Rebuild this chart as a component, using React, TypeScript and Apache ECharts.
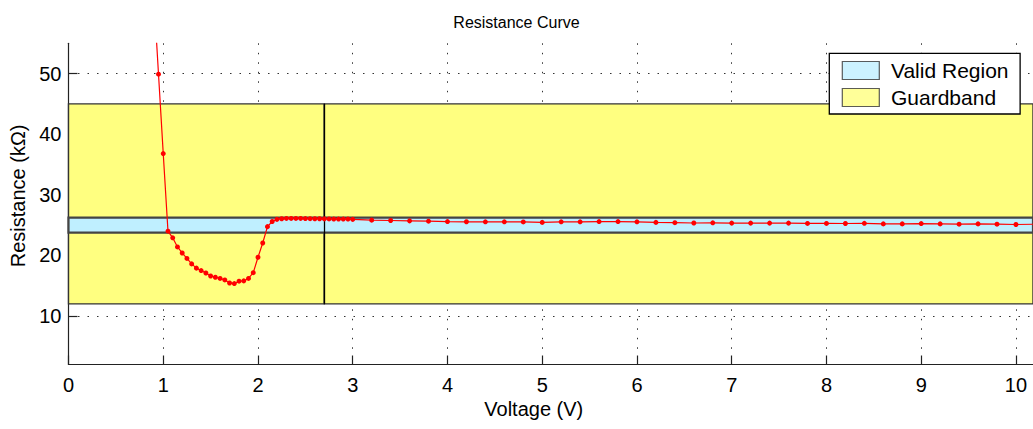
import React, { useEffect, useRef } from "react";
import * as echarts from "echarts";

const voltage = [
  0.9, 0.95, 1.0, 1.05, 1.1, 1.15, 1.2, 1.25, 1.3, 1.35, 1.4, 1.45, 1.5, 1.55,
  1.6, 1.65, 1.7, 1.75, 1.8, 1.85, 1.9, 1.95, 2.0, 2.05, 2.1, 2.15, 2.2, 2.25,
  2.3, 2.35, 2.4, 2.45, 2.5, 2.55, 2.6, 2.65, 2.7, 2.75, 2.8, 2.85, 2.9, 2.95,
  3.0, 3.2, 3.4, 3.6, 3.8, 4.0, 4.2, 4.4, 4.6, 4.8, 5.0, 5.2, 5.4, 5.6, 5.8,
  6.0, 6.2, 6.4, 6.6, 6.8, 7.0, 7.2, 7.4, 7.6, 7.8, 8.0, 8.2, 8.4, 8.6, 8.8,
  9.0, 9.2, 9.4, 9.6, 9.8, 10.0, 10.2,
];
const resistance = [
  63, 49.9, 36.8, 24.0, 22.9, 21.4, 20.4, 19.5, 18.6, 17.9, 17.5, 17.1, 16.6,
  16.4, 16.2, 15.95, 15.45, 15.35, 15.75, 15.8, 16.2, 17.15, 19.7, 22.05, 24.75,
  25.6, 25.95, 26.05, 26.1, 26.1, 26.1, 26.1, 26.08, 26.06, 26.05, 26.05, 26.03,
  26.02, 26.0, 26.0, 26.0, 26.0, 25.95, 25.82, 25.76, 25.7, 25.65, 25.58, 25.55,
  25.54, 25.54, 25.52, 25.45, 25.54, 25.54, 25.58, 25.58, 25.54, 25.45, 25.4,
  25.35, 25.38, 25.33, 25.33, 25.33, 25.33, 25.28, 25.28, 25.27, 25.3, 25.2,
  25.2, 25.25, 25.2, 25.15, 25.2, 25.15, 25.1, 25.15,
];
const xTicks = [0, 1, 2, 3, 4, 5, 6, 7, 8, 9, 10];
const yTicks = [10, 20, 30, 40, 50];
const validRegion = [23.75, 26.25];
const guardband = [12, 45];
const splitVoltage = 2.7;
const xRange = [0, 10.18];
const yRange = [2, 55];

const FONT = "'Liberation Sans', Arial, Helvetica, sans-serif";

export default function App() {
  const ref = useRef<HTMLDivElement>(null);
  useEffect(() => {
    if (!ref.current) return;
    const chart = echarts.init(ref.current, null, { renderer: "svg" });
    const points = voltage.map((v, i) => [v, resistance[i]]);
    const gridLine = { show: true, lineStyle: { color: "#333", type: [1.5, 8], width: 1 } };
    chart.setOption({
      animation: false,
      backgroundColor: "#fff",
      title: {
        text: "Resistance Curve",
        left: "center",
        top: 9,
        padding: [5, 0, 5, 10],
        textStyle: { fontFamily: FONT, fontSize: 16, fontWeight: "normal", color: "#000" },
      },
      legend: {
        orient: "vertical",
        left: 829.3,
        top: 53.3,
        padding: [6.7, 11.6, 6, 12.4],
        itemWidth: 37,
        itemHeight: 18,
        itemGap: 6,
        backgroundColor: "#fff",
        borderColor: "#000",
        borderWidth: 1.3,
        selectedMode: false,
        textStyle: { fontFamily: FONT, fontSize: 21, lineHeight: 18, color: "#000", padding: [0, 0, 0, 6.7] },
        data: [
          { name: "Valid Region", icon: "rect", itemStyle: { color: "#BFEFFF", borderColor: "#333", borderWidth: 1.2 } },
          { name: "Guardband", icon: "rect", itemStyle: { color: "#FFFF80", borderColor: "#333", borderWidth: 1.2 } },
        ],
      },
      grid: { left: 68.5, right: 0, top: 43.3, bottom: 64.5, containLabel: false },
      xAxis: {
        type: "value",
        min: xRange[0],
        max: xRange[1],
        name: "Voltage (V)",
        nameLocation: "middle",
        nameGap: 33,
        nameTextStyle: { fontFamily: FONT, fontSize: 20, color: "#000", padding: [0, 34, 0, 0] },
        axisLine: { show: true, onZero: false, lineStyle: { color: "#222", width: 1.2 } },
        axisTick: { show: true, inside: true, length: 9, customValues: xTicks, lineStyle: { color: "#222", width: 1.2 } },
        axisLabel: { show: true, margin: 10, customValues: xTicks, fontFamily: FONT, fontSize: 20, color: "#000" },
        splitLine: gridLine,
      },
      yAxis: {
        type: "value",
        min: yRange[0],
        max: yRange[1],
        name: "Resistance (kΩ)",
        nameLocation: "middle",
        nameGap: 32,
        nameTextStyle: { fontFamily: FONT, fontSize: 20, color: "#000", padding: [0, 0, 0, 16] },
        axisLine: { show: true, onZero: false, lineStyle: { color: "#222", width: 1.2 } },
        axisTick: { show: true, inside: true, length: 9, customValues: yTicks, lineStyle: { color: "#222", width: 1.2 } },
        axisLabel: { show: true, margin: 7, customValues: yTicks, fontFamily: FONT, fontSize: 20, color: "#000" },
        splitLine: gridLine,
      },
      series: [
        {
          name: "Guardband",
          type: "scatter",
          data: [],
          itemStyle: { color: "#FFFF80" },
          markArea: {
            silent: true,
            label: { show: false },
            itemStyle: { color: "#FFFF80", borderColor: "#333", borderWidth: 1.4 },
            data: [
              [{ coord: [xRange[0], guardband[0]] }, { coord: [splitVoltage, guardband[1]] }],
              [{ coord: [splitVoltage, guardband[0]] }, { coord: [xRange[1], guardband[1]] }],
            ],
          },
        },
        {
          name: "Valid Region",
          type: "scatter",
          data: [],
          itemStyle: { color: "#BFEFFF" },
          markArea: {
            silent: true,
            label: { show: false },
            itemStyle: { color: "#BFEFFF", borderColor: "#444", borderWidth: 2.2 },
            data: [[{ coord: [xRange[0], validRegion[0]] }, { coord: [xRange[1], validRegion[1]] }]],
          },
        },
        {
          name: "Split",
          type: "scatter",
          data: [],
          markLine: {
            silent: true,
            symbol: "none",
            label: { show: false },
            lineStyle: { color: "#000", width: 1.3, type: "solid" },
            data: [[{ coord: [splitVoltage, guardband[0]] }, { coord: [splitVoltage, guardband[1]] }]],
          },
        },
        {
          name: "Resistance",
          type: "line",
          data: points,
          clip: true,
          symbol: "circle",
          symbolSize: 5,
          showSymbol: true,
          lineStyle: { color: "#FF0000", width: 1.2 },
          itemStyle: { color: "#FF0000" },
          z: 5,
        },
      ],
    });
    return () => chart.dispose();
  }, []);
  return <div ref={ref} style={{ position: "absolute", left: 0, top: 0, width: 1033, height: 429 }} />;
}
